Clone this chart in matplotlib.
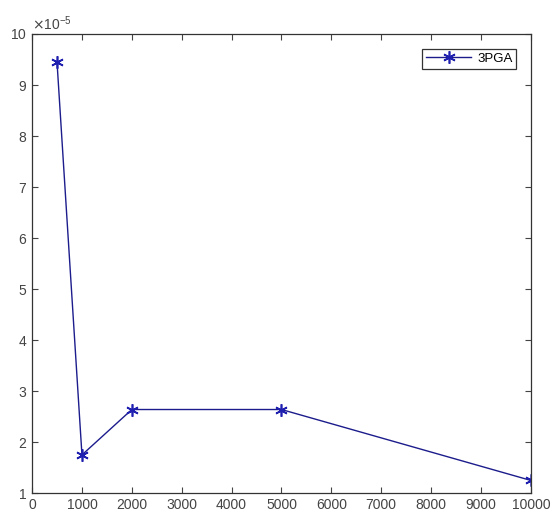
import matplotlib
matplotlib.use("Agg")
import matplotlib.pyplot as plt
from matplotlib.ticker import ScalarFormatter
import numpy as np

plt.rcParams['font.family'] = ['Liberation Sans', 'DejaVu Sans']

# data
x_vals = [500, 1000, 2000, 5000, 10000]
y_vals = [9.45e-5, 1.75e-5, 2.64e-5, 2.64e-5, 1.25e-5]
series_name = '3PGA'

fig = plt.figure(figsize=(5.53, 5.23), dpi=100)
ax = fig.add_axes([0.058, 0.057, 0.902, 0.878])

# asterisk marker like matlab '*'
ax.plot(x_vals, y_vals, color='#1c1c8c', linewidth=1.0, marker=(6, 2, 0),
        markersize=9, markeredgecolor='#2020b0', markeredgewidth=1.2,
        label=series_name)

ax.set_xlim(0, 10000)
ax.set_ylim(1e-5, 10e-5)
ax.set_xticks(np.arange(0, 10001, 1000))
ax.set_yticks(np.arange(1, 11) * 1e-5)

fmt = ScalarFormatter(useMathText=True)
fmt.set_powerlimits((-5, -5))
ax.yaxis.set_major_formatter(fmt)
ax.yaxis.get_offset_text().set_fontsize(10)
ax.yaxis.get_offset_text().set_color('#444444')

ax.tick_params(direction='in', top=True, right=True, labelsize=10,
               colors='#444444', length=4)
for s in ax.spines.values():
    s.set_color('#333333')
    s.set_linewidth(0.9)

leg = ax.legend(loc='upper right', fontsize=9.5, fancybox=False,
                edgecolor='#333333', framealpha=1, handlelength=3.4,
                handletextpad=0.45, borderpad=0.3, borderaxespad=1.1)
leg.get_frame().set_linewidth(0.9)

fig.savefig('out.png', dpi=100)
